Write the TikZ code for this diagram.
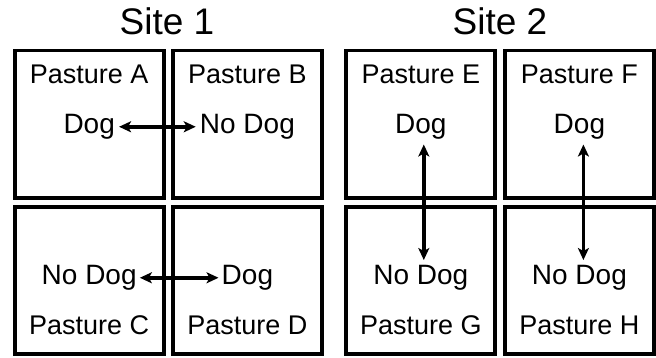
\documentclass[tikz,border=0pt]{standalone}
\usepackage{fontspec}
\setmainfont{Liberation Sans}
\usetikzlibrary{arrows.meta}
\begin{document}
\begin{tikzpicture}[x=1pt,y=-1pt,
  pasture/.style={draw=black,line width=3.8pt,minimum width=149pt,minimum height=147.5pt,inner sep=0pt,outer sep=0pt},
  title/.style={anchor=base,inner sep=0pt,font=\fontsize{37}{43}\selectfont},
  lab/.style={anchor=base,inner sep=0pt,font=\fontsize{27}{32}\selectfont},
  trt/.style={anchor=base,inner sep=0pt,font=\fontsize{28}{33}\selectfont},
  arr/.style={line width=3.6pt,{Stealth[length=12pt,width=11pt,inset=3pt]}-{Stealth[length=12pt,width=11pt,inset=3pt]}}
]
\useasboundingbox (0,0) rectangle (656,358);
% boxes
\node[pasture] (boxA) at (89.2,124.3) {};
\node[pasture] (boxB) at (247.4,124.3) {};
\node[pasture] (boxE) at (420.8,124.3) {};
\node[pasture] (boxF) at (579.4,124.3) {};
\node[pasture] (boxC) at (89.2,280.6) {};
\node[pasture] (boxD) at (247.4,280.6) {};
\node[pasture] (boxG) at (420.8,280.6) {};
\node[pasture] (boxH) at (579.4,280.6) {};
% titles
\node[title] (site1) at (167,35) {Site 1};
\node[title] (site2) at (500,35) {Site 2};
% pasture names
\node[lab] (pA) at (89.2,83.5) {Pasture A};
\node[lab] (pB) at (247.4,83.5) {Pasture B};
\node[lab] (pE) at (420.8,83.5) {Pasture E};
\node[lab] (pF) at (579.4,83.5) {Pasture F};
\node[lab] (pC) at (89.2,334) {Pasture C};
\node[lab] (pD) at (247.4,334) {Pasture D};
\node[lab] (pG) at (420.8,334) {Pasture G};
\node[lab] (pH) at (579.4,334) {Pasture H};
% treatments
\node[trt] (tA) at (89.2,133.5) {Dog};
\node[trt] (tB) at (247.4,133.5) {No Dog};
\node[trt] (tE) at (420.8,133.5) {Dog};
\node[trt] (tF) at (579.4,133.5) {Dog};
\node[trt] (tC) at (89.2,284.5) {No Dog};
\node[trt] (tD) at (247.4,284.5) {Dog};
\node[trt] (tG) at (420.8,284.5) {No Dog};
\node[trt] (tH) at (579.4,284.5) {No Dog};
% arrows
\draw[arr,shorten <=4pt,shorten >=4pt] (tA.east) -- (tB.west);
\draw[arr,shorten <=3pt,shorten >=3pt] (tC.east) -- (tD.west);
\draw[arr,shorten <=5pt,shorten >=5pt] ([xshift=3pt]tE.south) -- ([xshift=3pt]tG.north);
\draw[arr,shorten <=5pt,shorten >=5pt] ([xshift=4pt]tF.south) -- ([xshift=4pt]tH.north);
\end{tikzpicture}
\end{document}
